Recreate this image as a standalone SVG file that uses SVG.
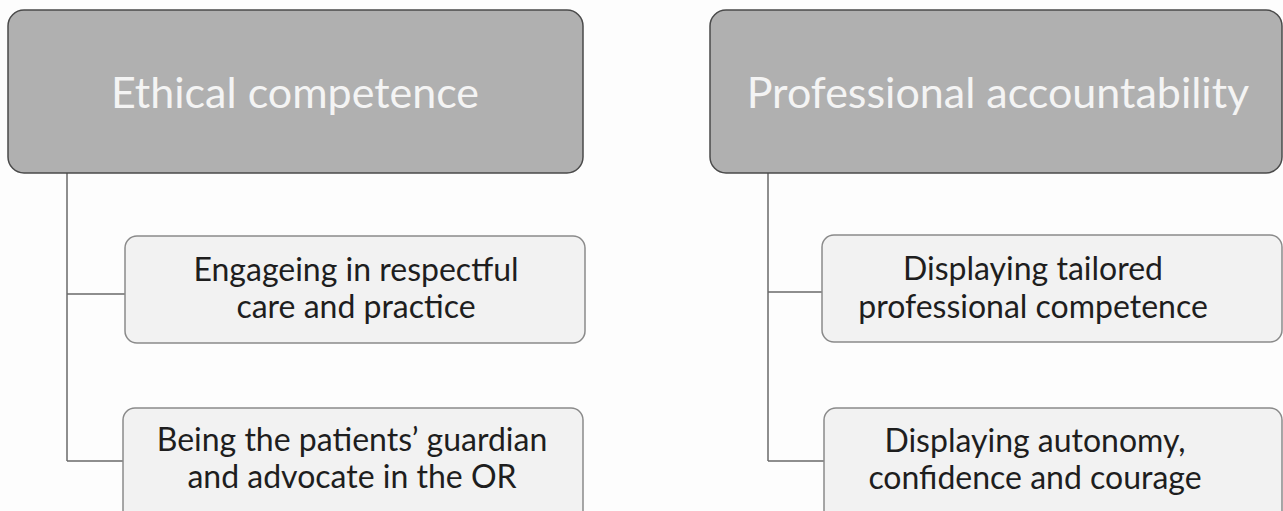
<svg xmlns="http://www.w3.org/2000/svg" width="1283" height="511" viewBox="0 0 1283 511">
<style>
.bg{fill:#fdfdfd}
.head rect{fill:#b0b0b0;stroke:#4a4a4a;stroke-width:1.5}
.head text{fill:#f4f4f4;font-family:Lato,"Open Sans",sans-serif;font-size:43px;text-anchor:middle}
.sub rect{fill:#f2f2f2;stroke:#8a8a8a;stroke-width:1.5}
.sub text{fill:#1e1e1e;font-family:Lato,"Open Sans",sans-serif;font-size:32px;text-anchor:middle}
.conn path{fill:none;stroke:#6a6a6a;stroke-width:1.5}
</style>
<rect class="bg" x="0" y="0" width="1283" height="511"/>
<g class="conn" id="connectors">
<path d="M67 173 V461 M67 294 H125 M67 461 H123"/>
<path d="M768 173 V461 M768 292 H822 M768 461 H824"/>
</g>
<g class="head" id="ethical">
<rect x="8" y="10" width="575" height="163" rx="16"/>
<text x="295" y="108">Ethical competence</text>
</g>
<g class="head" id="professional">
<rect x="710" y="10" width="572" height="163" rx="16"/>
<text x="998" y="108">Professional accountability</text>
</g>
<g class="sub" id="respectful">
<rect x="125" y="236" width="460" height="107" rx="12"/>
<text x="356" y="281">Engageing in respectful</text>
<text x="356" y="318">care and practice</text>
</g>
<g class="sub" id="guardian">
<rect x="123" y="408" width="460" height="115" rx="12"/>
<text x="352" y="451">Being the patients’ guardian</text>
<text x="352" y="488">and advocate in the OR</text>
</g>
<g class="sub" id="tailored">
<rect x="822" y="235" width="460" height="107" rx="12"/>
<text x="1033" y="280">Displaying tailored</text>
<text x="1033" y="318">professional competence</text>
</g>
<g class="sub" id="autonomy">
<rect x="824" y="408" width="458" height="115" rx="12"/>
<text x="1035" y="452">Displaying autonomy,</text>
<text x="1035" y="489">confidence and courage</text>
</g>
</svg>
